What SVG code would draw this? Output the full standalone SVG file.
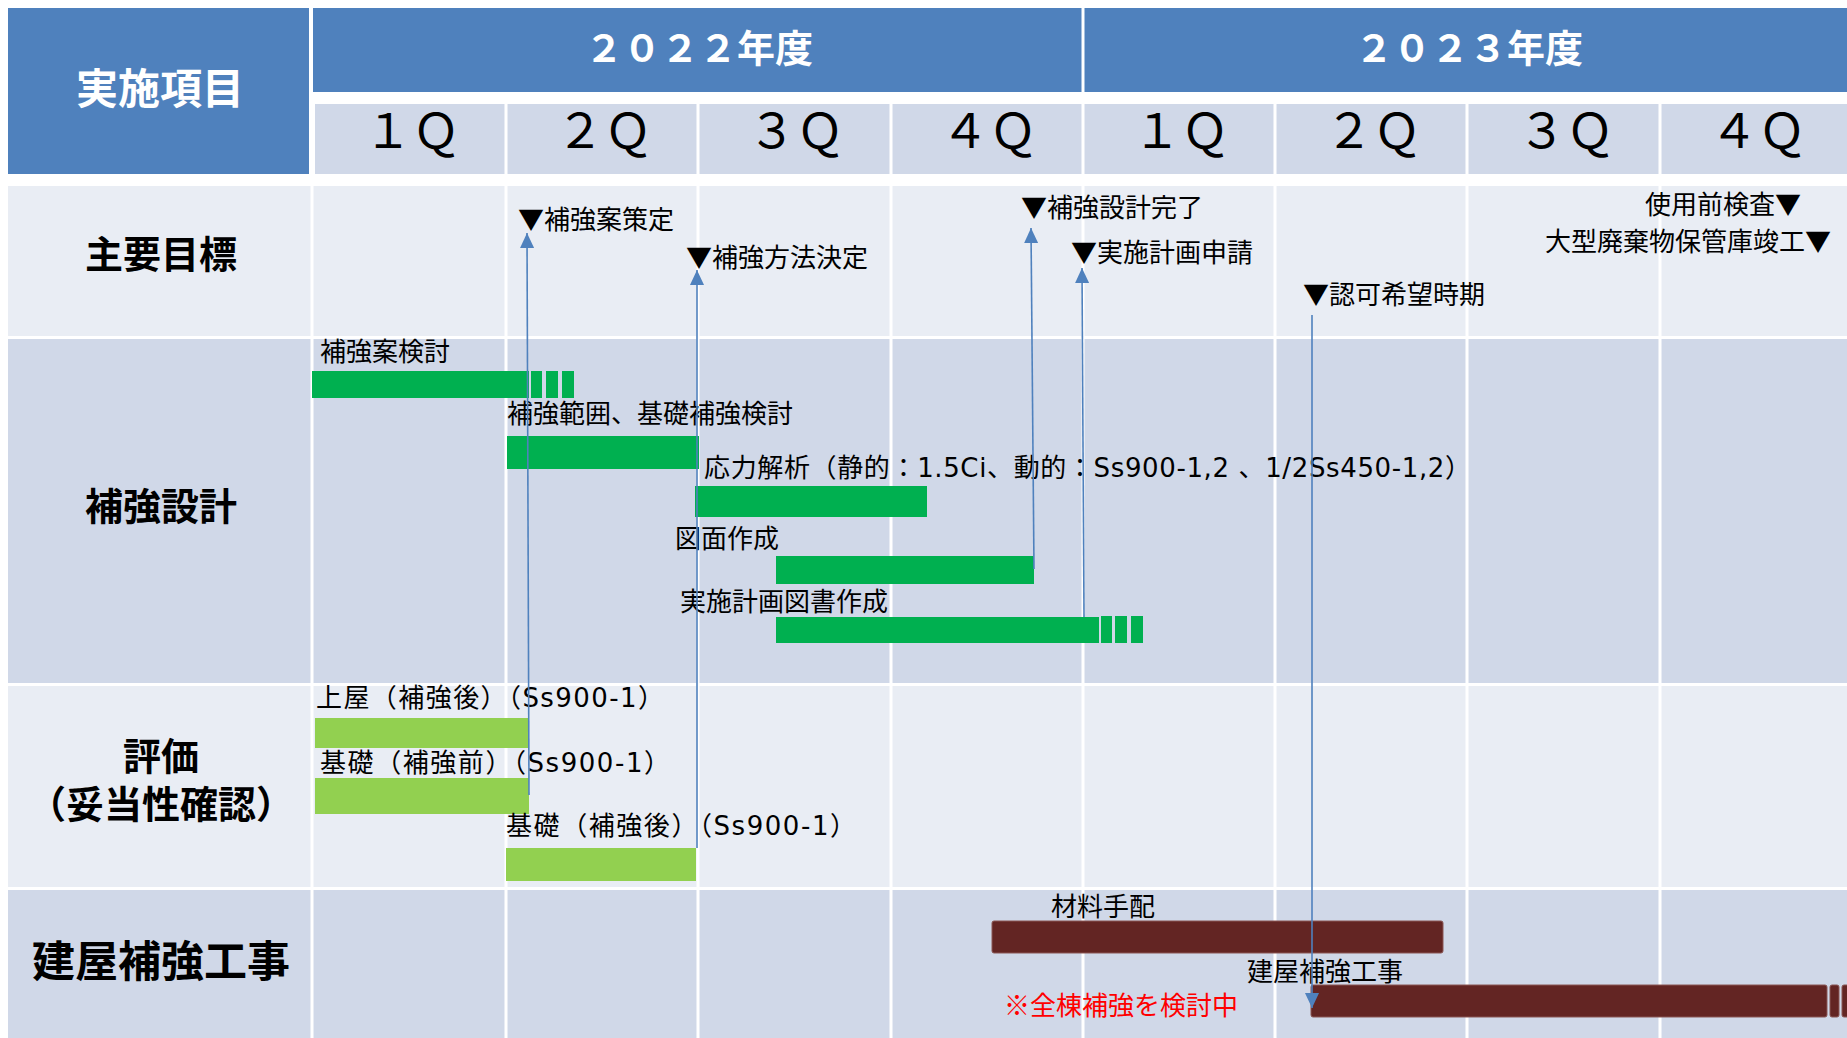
<svg xmlns="http://www.w3.org/2000/svg" width="1847" height="1038" viewBox="0 0 1847 1038">
<style>
text{font-family:"Noto Sans CJK JP","Noto Sans",sans-serif;}
.lat{font-family:"DejaVu Sans","Noto Sans CJK JP",sans-serif;}
.hdr{fill:#4F81BD;}
.qrow{fill:#D0D8E8;}
.light{fill:#E9EDF4;}
.dark{fill:#D0D8E8;}
.vline{stroke:#FFFFFF;stroke-width:3;}
.htxt{fill:#FFFFFF;font-weight:bold;}
.qtxt{fill:#000000;font-size:48px;text-anchor:middle;}
.rtxt{fill:#000000;font-weight:bold;font-size:38px;text-anchor:middle;}
.lbl{fill:#000000;font-size:26px;}
.green{fill:#00B050;}
.lgreen{fill:#92D050;}
.brown{fill:#632523;stroke:#8A5654;stroke-width:1;}
.conn{stroke:#4F81BD;stroke-width:1.6;fill:none;}
</style>
<defs>
<marker id="ah" markerUnits="userSpaceOnUse" viewBox="0 0 15 14" refX="15" refY="7" markerWidth="15" markerHeight="14" orient="auto">
<path d="M0,0 L15,7 L0,14 Z" fill="#4F81BD"/>
</marker>
</defs>
<rect x="0" y="0" width="1847" height="1038" fill="#FFFFFF"/>

<g id="header">
<rect class="hdr" x="8" y="8" width="301" height="166"/>
<text class="htxt" x="160" y="104" font-size="42" text-anchor="middle">実施項目</text>
<rect class="hdr" x="313" y="8" width="1534" height="84"/>
<line class="vline" x1="1083" y1="8" x2="1083" y2="92"/>
<text class="htxt" x="699" y="62" font-size="38" text-anchor="middle">２０２２年度</text>
<text class="htxt" x="1469" y="62" font-size="38" text-anchor="middle">２０２３年度</text>
<rect class="qrow" x="315" y="104" width="1532" height="70"/>
<text class="qtxt" x="412" y="148">１Ｑ</text>
<text class="qtxt" x="604" y="148">２Ｑ</text>
<text class="qtxt" x="796" y="148">３Ｑ</text>
<text class="qtxt" x="989" y="148">４Ｑ</text>
<text class="qtxt" x="1181" y="148">１Ｑ</text>
<text class="qtxt" x="1373" y="148">２Ｑ</text>
<text class="qtxt" x="1566" y="148">３Ｑ</text>
<text class="qtxt" x="1758" y="148">４Ｑ</text>
</g>

<g id="rows">
<rect class="light" x="8" y="186" width="1839" height="150"/>
<rect class="dark" x="8" y="339" width="1839" height="344"/>
<rect class="light" x="8" y="686" width="1839" height="201"/>
<rect class="dark" x="8" y="890" width="1839" height="148"/>
</g>

<g id="grid">
<line class="vline" x1="312" y1="104" x2="312" y2="1038" stroke-width="4"/>
<line class="vline" x1="506" y1="104" x2="506" y2="1038"/>
<line class="vline" x1="698" y1="104" x2="698" y2="1038"/>
<line class="vline" x1="891" y1="104" x2="891" y2="1038"/>
<line class="vline" x1="1083" y1="104" x2="1083" y2="1038"/>
<line class="vline" x1="1275" y1="104" x2="1275" y2="1038"/>
<line class="vline" x1="1467" y1="104" x2="1467" y2="1038"/>
<line class="vline" x1="1660" y1="104" x2="1660" y2="1038"/>
</g>

<g id="row-labels">
<text class="rtxt" x="161" y="268">主要目標</text>
<text class="rtxt" x="161" y="520">補強設計</text>
<text class="rtxt" x="161" y="770">評価</text>
<text class="rtxt" x="161" y="818">（妥当性確認）</text>
<text class="rtxt" x="161" y="977" style="font-size:43px">建屋補強工事</text>
</g>

<g id="milestones">
<g id="ms1"><text class="lbl" x="518" y="229">▼補強案策定</text></g>
<g id="ms2"><text class="lbl" x="686" y="267">▼補強方法決定</text></g>
<g id="ms3"><text class="lbl" x="1021" y="217">▼補強設計完了</text></g>
<g id="ms4"><text class="lbl" x="1071" y="262">▼実施計画申請</text></g>
<g id="ms5"><text class="lbl" x="1303" y="304">▼認可希望時期</text></g>
<g id="ms6"><text class="lbl" x="1801" y="214" text-anchor="end">使用前検査▼</text></g>
<g id="ms7"><text class="lbl" x="1831" y="251" text-anchor="end">大型廃棄物保管庫竣工▼</text></g>
</g>

<g id="task1">
<text class="lbl" x="320" y="361">補強案検討</text>
<rect class="green" x="312" y="371" width="217" height="27"/>
<rect class="green" x="531" y="371" width="11" height="27"/>
<rect class="green" x="546" y="371" width="12" height="27"/>
<rect class="green" x="562" y="371" width="12" height="27"/>
</g>
<g id="task2">
<text class="lbl" x="507" y="423">補強範囲、基礎補強検討</text>
<rect class="green" x="507" y="436" width="192" height="33"/>
</g>
<g id="task3">
<text class="lbl" x="704" y="477" textLength="767" lengthAdjust="spacing">応力解析（静的：<tspan class="lat">1.5Ci</tspan>、動的：<tspan class="lat">Ss900-1,2 </tspan>、<tspan class="lat">1/2Ss450-1,2</tspan>）</text>
<rect class="green" x="695" y="486" width="232" height="31"/>
</g>
<g id="task4">
<text class="lbl" x="675" y="548">図面作成</text>
<rect class="green" x="776" y="556" width="258" height="28"/>
</g>
<g id="task5">
<text class="lbl" x="680" y="611">実施計画図書作成</text>
<rect class="green" x="776" y="617" width="323" height="26"/>
<rect class="green" x="1101" y="616" width="11" height="27"/>
<rect class="green" x="1115" y="616" width="12" height="27"/>
<rect class="green" x="1131" y="616" width="12" height="27"/>
</g>

<g id="eval1">
<text class="lbl" x="316" y="707" textLength="348" lengthAdjust="spacing">上屋（補強後）（<tspan class="lat">Ss900-1</tspan>）</text>
<rect class="lgreen" x="315" y="718" width="213" height="30"/>
</g>
<g id="eval2">
<text class="lbl" x="320" y="772" textLength="350" lengthAdjust="spacing">基礎（補強前）（<tspan class="lat">Ss900-1</tspan>）</text>
<rect class="lgreen" x="315" y="778" width="214" height="36"/>
</g>
<g id="eval3">
<text class="lbl" x="506" y="835" textLength="350" lengthAdjust="spacing">基礎（補強後）（<tspan class="lat">Ss900-1</tspan>）</text>
<rect class="lgreen" x="506" y="848" width="190" height="33"/>
</g>

<g id="work1">
<text class="lbl" x="1051" y="916">材料手配</text>
<rect class="brown" x="992" y="921" width="451" height="32" rx="2"/>
</g>
<g id="work2">
<text class="lbl" x="1247" y="981">建屋補強工事</text>
<rect class="brown" x="1311" y="985" width="516" height="32" rx="2"/>
<rect class="brown" x="1830" y="985" width="9" height="32" rx="2"/>
<rect class="brown" x="1842" y="985" width="8" height="32" rx="2"/>
</g>
<g id="note">
<text class="lbl" x="1004" y="1015" style="fill:#FF0000">※全棟補強を検討中</text>
</g>

<g id="connectors">
<line class="conn" x1="529" y1="795" x2="527" y2="233" marker-end="url(#ah)"/>
<line class="conn" x1="697" y1="848" x2="697" y2="270" marker-end="url(#ah)"/>
<line class="conn" x1="1034" y1="569" x2="1031" y2="228" marker-end="url(#ah)"/>
<line class="conn" x1="1084" y1="617" x2="1082" y2="268" marker-end="url(#ah)"/>
<line class="conn" x1="1312" y1="315" x2="1312" y2="1008" marker-end="url(#ah)"/>
</g>
</svg>
